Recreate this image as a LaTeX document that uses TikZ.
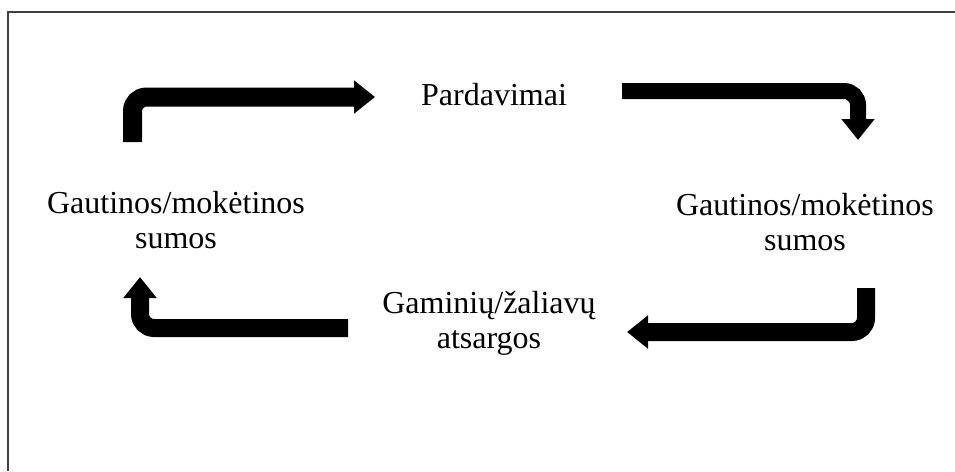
\documentclass[tikz,border=0pt]{standalone}
\usepackage{fontspec}
\setmainfont{Liberation Serif}
\usetikzlibrary{arrows.meta}

\tikzset{
  lbl/.style={align=center, inner sep=0pt, font=\fontsize{32pt}{35pt}\selectfont},
  bigarrow/.style={line width=#1, rounded corners=14pt,
    -{Triangle[width=32pt,length=21pt]}},
}

\begin{document}
\begin{tikzpicture}[x=1pt,y=-1pt]
\useasboundingbox (0,0) rectangle (955,471);
\draw[line width=2pt, gray!50!black] (955,12) -- (8,12) -- (8,471);

\node[lbl] (pard) at (494,95) {Pardavimai};
\node[lbl] (leftsum) at (176,220) {Gautinos/mokėtinos\\sumos};
\node[lbl] (rightsum) at (805,222) {Gautinos/mokėtinos\\sumos};
\node[lbl] (stock) at (489,323) {Gaminių/žaliavų\\atsargos};

\coordinate (a1s) at (132.5,142);
\coordinate (a1c) at (132.5,97);
\coordinate (a1e) at (375,97);
\coordinate (a2s) at (622,91);
\coordinate (a2c) at (858,91);
\coordinate (a2e) at (858,140);
\coordinate (a3s) at (866,288);
\coordinate (a3c) at (866,332);
\coordinate (a3e) at (627,332);
\coordinate (a4s) at (348,328);
\coordinate (a4c) at (140,328);
\coordinate (a4e) at (140,277);

\draw[bigarrow=19pt] (a1s) -- (a1c) -- (a1e);
\draw[bigarrow=16pt] (a2s) -- (a2c) -- (a2e);
\draw[bigarrow=18pt] (a3s) -- (a3c) -- (a3e);
\draw[bigarrow=18pt] (a4s) -- (a4c) -- (a4e);

\end{tikzpicture}
\end{document}
